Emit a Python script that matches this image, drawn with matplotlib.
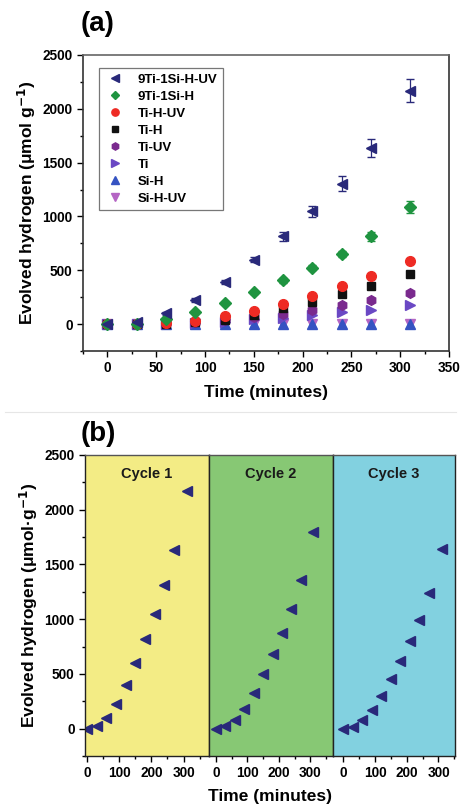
import numpy as np
import matplotlib.pyplot as plt
from matplotlib.lines import Line2D
from matplotlib.ticker import MultipleLocator

plt.rcParams['font.family'] = ['Liberation Sans', 'DejaVu Sans']
plt.rcParams['font.weight'] = 'bold'
plt.rcParams['axes.labelweight'] = 'bold'
plt.rcParams['mathtext.default'] = 'regular'

# ---------------------------------
# Data
# ---------------------------------
time = [0, 30, 60, 90, 120, 150, 180, 210, 240, 270, 310]

series_names = ['9Ti-1Si-H-UV', '9Ti-1Si-H', 'Ti-H-UV', 'Ti-H', 'Ti-UV', 'Ti', 'Si-H', 'Si-H-UV']
ti_si_h_uv = [0, 20, 100, 223, 395, 598, 815, 1048, 1305, 1635, 2170]
ti_si_h = [0, 0, 45, 110, 195, 297, 405, 525, 650, 815, 1087]
ti_h_uv = [0, 0, 10, 30, 75, 125, 185, 265, 355, 450, 590]
ti_h = [0, 0, 5, 15, 35, 85, 145, 205, 280, 355, 470]
ti_uv = [0, 0, 10, 20, 35, 70, 95, 130, 175, 225, 292]
ti = [0, 0, 5, 10, 20, 45, 60, 85, 110, 135, 180]
si_h = [0, 0, 0, 0, 0, 0, 0, 0, 0, 0, 0]
si_h_uv = [0, 0, 0, 0, 0, 0, 0, 0, 0, 0, 0]

err_ti_si_h_uv = [0, 10, 12, 15, 18, 22, 40, 50, 72, 85, 110]
err_ti_si_h = [0, 5, 8, 10, 12, 15, 20, 25, 30, 40, 58]

cycle_names = ['Cycle 1', 'Cycle 2', 'Cycle 3']
cycle_1 = [0, 25, 100, 225, 400, 600, 820, 1050, 1310, 1635, 2170]
cycle_2 = [0, 20, 80, 180, 330, 500, 680, 870, 1090, 1360, 1800]
cycle_3 = [0, 15, 75, 170, 300, 450, 620, 800, 990, 1240, 1640]

# ---------------------------------
# Styles
# ---------------------------------
navy = '#29297a'
styles = [
    ('<', navy),
    ('D', '#1f9440'),
    ('o', '#ee2b24'),
    ('s', '#111111'),
    ('h', '#7a2a8e'),
    ('>', '#6a48c4'),
    ('^', '#3553c2'),
    ('v', '#b565c4'),
]
cycle_colors = ['#f3ec85', '#87c874', '#82d1e0']
tick_fs = 9.8
label_fs = 12.5

fig = plt.figure(figsize=(4.61, 8.06), dpi=100)

# ---------------------------------
# Panel (a)
# ---------------------------------
ax = fig.add_axes([83 / 461, 1 - 351 / 806, 366 / 461, 296 / 806])

all_series = [ti_si_h_uv, ti_si_h, ti_h_uv, ti_h, ti_uv, ti, si_h, si_h_uv]
ax.errorbar(time, ti_si_h_uv, yerr=err_ti_si_h_uv, fmt='none', ecolor=navy,
            elinewidth=0.9, capsize=3, zorder=2)
ax.errorbar(time, ti_si_h, yerr=err_ti_si_h, fmt='none', ecolor='#1f9440',
            elinewidth=0.9, capsize=3, zorder=2)

# draw low series first so top ones sit above
for idx in range(len(all_series) - 1, -1, -1):
    m, c = styles[idx]
    ms = 7 if m not in ('D', 's') else 6
    ax.plot(time, all_series[idx], linestyle='none', marker=m, color=c,
            markersize=ms, label=series_names[idx], zorder=3)

ax.set_xlim(-25, 350)
ax.set_ylim(-250, 2500)
ax.xaxis.set_major_locator(MultipleLocator(50))
ax.xaxis.set_minor_locator(MultipleLocator(25))
ax.yaxis.set_major_locator(MultipleLocator(500))
ax.yaxis.set_minor_locator(MultipleLocator(250))
ax.tick_params(which='major', direction='out', length=4, width=1, labelsize=tick_fs)
ax.tick_params(which='minor', direction='out', length=2.5, width=1)
for lab in ax.get_xticklabels() + ax.get_yticklabels():
    lab.set_fontweight('bold')
for s in ax.spines.values():
    s.set_linewidth(1.2)
    s.set_color('#333333')
ax.spines['top'].set_color('#666666')

ax.set_xlabel('Time (minutes)', fontsize=label_fs, labelpad=7)
ax.set_ylabel(r'Evolved hydrogen ($\mu$mol g$^{\mathbf{-1}}$)', fontsize=label_fs, labelpad=3)

handles, labels = ax.get_legend_handles_labels()
order = [labels.index(n) for n in series_names]
leg = ax.legend([handles[i] for i in order], [labels[i] for i in order],
                loc='upper left', bbox_to_anchor=(0.045, 0.955), borderaxespad=0,
                fontsize=9.5, frameon=True, fancybox=False, edgecolor='#555555',
                handletextpad=0.9, labelspacing=0.36, handlelength=1.6,
                borderpad=0.4, markerscale=0.75)
leg.get_frame().set_linewidth(0.9)
for t in leg.get_texts():
    t.set_fontweight('bold')

fig.text(81 / 461, 1 - 24 / 806, '(a)', fontsize=20, fontweight='bold', va='center')

# separator line
fig.add_artist(Line2D([5 / 461, 456 / 461], [1 - 412 / 806, 1 - 412 / 806],
                      color='#e6e6e6', linewidth=0.8))

# ---------------------------------
# Panel (b)
# ---------------------------------
edges = [85, 209, 333, 455]
xlims = [(-6, 379), (-22, 372), (-32, 352)]
cycles = [cycle_1, cycle_2, cycle_3]
b_axes = []
for k in range(3):
    axb = fig.add_axes([edges[k] / 461, 1 - 756 / 806,
                        (edges[k + 1] - edges[k]) / 461, 301 / 806])
    axb.set_facecolor(cycle_colors[k])
    axb.plot(time, cycles[k], linestyle='none', marker='<', color=navy, markersize=7)
    axb.set_xlim(*xlims[k])
    axb.set_ylim(-250, 2500)
    axb.xaxis.set_major_locator(MultipleLocator(100))
    axb.xaxis.set_minor_locator(MultipleLocator(50))
    axb.yaxis.set_major_locator(MultipleLocator(500))
    axb.yaxis.set_minor_locator(MultipleLocator(250))
    axb.tick_params(which='major', direction='out', length=4, width=1, labelsize=tick_fs)
    axb.tick_params(which='minor', direction='out', length=2.5, width=1)
    if k > 0:
        axb.tick_params(axis='y', which='both', left=False, labelleft=False)
    for lab in axb.get_xticklabels() + axb.get_yticklabels():
        lab.set_fontweight('bold')
    for s in axb.spines.values():
        s.set_linewidth(1.0)
        s.set_color('#222222')
    axb.spines['top'].set_color('#555555')
    axb.text(0.5, 0.96, cycle_names[k], transform=axb.transAxes, ha='center',
             va='top', fontsize=10.5, fontweight='bold', color='#1a1a1a')
    b_axes.append(axb)

b_axes[0].set_ylabel('Evolved hydrogen ($\\mu$mol·g$^{\\mathbf{-1}}$)', fontsize=label_fs, labelpad=3)
fig.text(270 / 461, 1 - 797 / 806, 'Time (minutes)', fontsize=label_fs,
         fontweight='bold', ha='center', va='center')
fig.text(81 / 461, 1 - 434 / 806, '(b)', fontsize=20, fontweight='bold', va='center')

plt.savefig('out.png', dpi=100)
print("Saved out.png")
